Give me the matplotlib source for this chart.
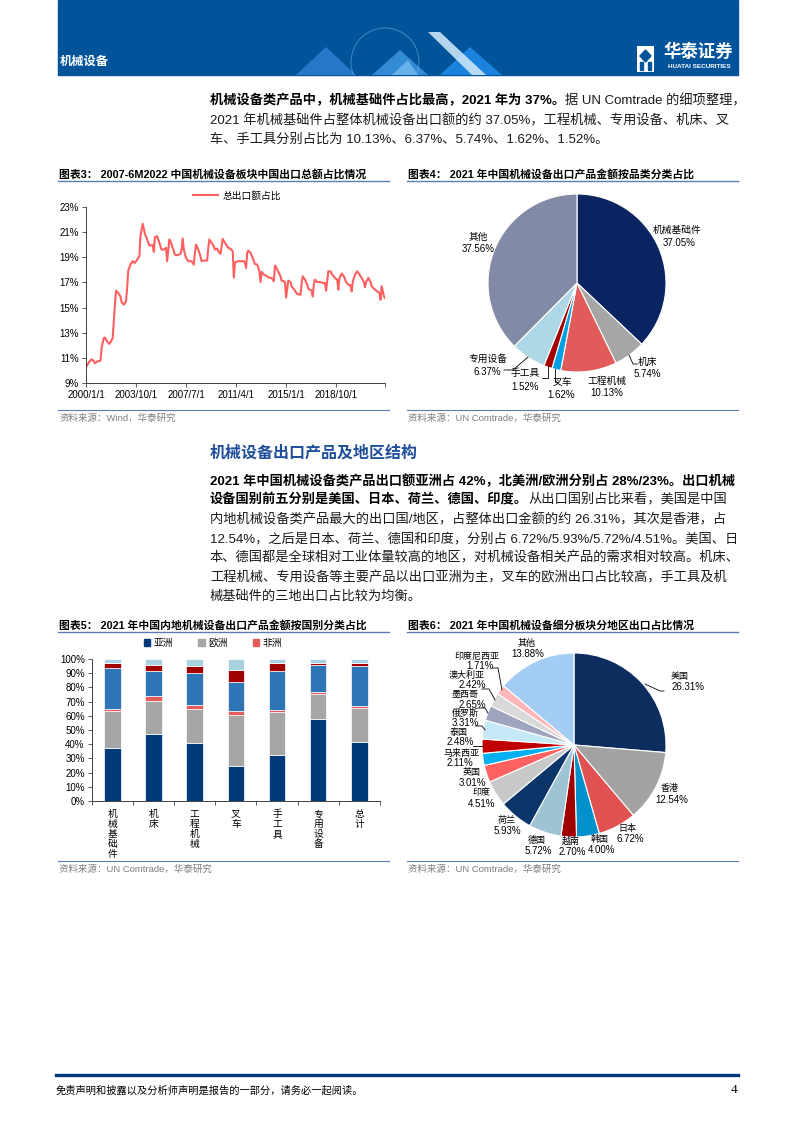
import numpy as np
import matplotlib.pyplot as plt
from matplotlib.patches import Rectangle, Polygon, Circle, Patch
from matplotlib.lines import Line2D

plt.rcParams['font.family'] = ['Liberation Sans', 'Noto Sans CJK SC']
plt.rcParams['axes.unicode_minus'] = False

W, H = 793, 1122

# ---------------- 数据 ----------------
# 图表3：总出口额占比（自2000/1起的月份序号, %）
line_months = [0, 3, 5, 7, 8, 10, 13, 14, 16, 17, 19, 21, 22, 24, 26, 27, 29, 31, 32, 34,
               36, 37, 38, 40, 42, 44, 46, 48, 49, 51, 53, 55, 57, 60, 61, 62, 64, 66, 68, 70,
               72, 73, 75, 76, 78, 80, 82, 85, 86, 87, 88, 90, 92, 95, 97, 98, 99, 101, 103, 104,
               106, 109, 110, 111, 113, 115, 116, 118, 119, 121, 122, 123, 125, 127, 128, 130, 132, 133, 134, 136,
               139, 142, 143, 144, 145, 146, 148, 150, 152, 154, 156, 157, 158, 160, 162, 164, 167, 169, 170, 171,
               173, 175, 176, 178, 179, 180, 182, 184, 185, 188, 190, 193, 194, 195, 197, 199, 200, 203, 204, 205,
               206, 208, 211, 213, 215, 216, 218, 220, 221, 224, 226, 227, 228, 230, 232, 234, 236, 238, 239, 240,
               242, 244, 246, 248, 250, 251, 252, 254, 256, 257, 260, 262, 264, 265, 266, 267, 268, 269]
line_values = [10.27, 10.72, 10.90, 10.77, 10.59, 10.72, 10.80, 11.78, 12.58, 12.63, 12.31, 12.12, 12.26, 12.58, 15.23, 16.34, 16.16, 15.89, 15.44, 15.23,
               15.50, 16.55, 17.93, 18.41, 18.68, 18.54, 18.81, 19.07, 20.67, 21.65, 20.85, 20.40, 19.92, 19.95, 19.42, 20.59, 20.67, 20.14, 19.60, 19.60,
               19.74, 18.68, 20.40, 20.27, 19.74, 19.20, 19.15, 19.26, 19.60, 20.48, 19.60, 18.94, 18.68, 18.68, 18.41, 19.34, 20.00, 19.60, 19.07, 18.68,
               18.73, 18.73, 19.74, 20.40, 20.14, 19.87, 19.60, 19.68, 19.47, 19.26, 19.87, 20.45, 20.14, 19.87, 19.74, 19.66, 19.47, 17.40, 18.54, 18.68,
               18.68, 18.68, 18.54, 18.15, 19.34, 19.52, 19.34, 18.94, 18.46, 18.41, 17.88, 17.03, 17.83, 17.62, 17.54, 17.40, 17.35, 17.09, 18.33, 18.20,
               17.83, 17.48, 17.14, 17.09, 17.03, 15.80, 17.14, 17.03, 16.69, 16.34, 16.08, 16.02, 16.95, 17.48, 17.22, 16.82, 16.50, 16.34, 15.89, 16.82,
               17.22, 17.03, 17.03, 16.95, 16.95, 16.34, 17.88, 17.88, 17.67, 17.35, 17.22, 16.42, 17.35, 17.70, 17.48, 17.03, 16.82, 16.77, 16.29, 17.03,
               17.62, 17.88, 17.62, 17.35, 17.03, 16.61, 17.03, 17.35, 17.03, 16.69, 16.42, 16.29, 16.16, 15.63, 16.70, 16.30, 15.90, 15.76]
line_tick_months = [0, 45, 90, 135, 180, 225, 269]
line_tick_labels = ['2000/1/1', '2003/10/1', '2007/7/1', '2011/4/1', '2015/1/1', '2018/10/1', '']

# 图表4：按品类分类占比 (%)
pie4_labels = ['机械基础件', '机床', '工程机械', '叉车', '手工具', '专用设备', '其他']
pie4_values = [37.05, 5.74, 10.13, 1.62, 1.52, 6.37, 37.56]

# 图表5：按国别（洲）分类占比 (%)
bar_categories = ['机械基础件', '机床', '工程机械', '叉车', '手工具', '专用设备', '总计']
bar_asia = [37.1, 47.2, 40.9, 24.5, 32.2, 57.5, 41.6]
bar_europe = [26.0, 23.1, 23.6, 36.2, 30.7, 18.2, 23.6]
bar_africa = [1.9, 3.8, 3.0, 2.6, 1.4, 1.4, 1.6]
bar_north_america = [28.5, 17.3, 22.9, 20.8, 27.3, 18.5, 28.1]
bar_oceania = [3.9, 4.4, 4.9, 8.2, 5.6, 1.8, 2.1]
bar_latin_america = [2.6, 4.2, 4.7, 7.7, 2.8, 2.6, 3.0]
bar_legend_labels = ['亚洲', '欧洲', '非洲']

# 图表6：分地区出口占比 (%)
pie6_labels = ['美国', '香港', '日本', '韩国', '越南', '德国', '荷兰', '印度', '英国',
               '马来西亚', '泰国', '俄罗斯', '墨西哥', '澳大利亚', '印度尼西亚', '其他']
pie6_values = [26.31, 12.54, 6.72, 4.00, 2.70, 5.72, 5.93, 4.51, 3.01,
               2.11, 2.48, 3.31, 2.65, 2.42, 1.71, 13.88]


def Y(y):
    # 页面像素坐标（自上而下）转为绘图坐标
    return H - y


fig = plt.figure(figsize=(W / 100, H / 100), dpi=100)
page = fig.add_axes([0, 0, 1, 1])
page.set_xlim(0, W)
page.set_ylim(0, H)
page.axis('off')
renderer = fig.canvas.get_renderer()

# ---------------- 页眉 ----------------
banner = Rectangle((58, Y(75)), 680, 75, color='#01549A', zorder=1)
page.add_patch(banner)
shapes = [
    ([(296, 75), (326, 47), (356, 75)], '#2B7FD0', 0.85),
    ([(372, 75), (400, 50), (428, 75)], '#3E95E0', 0.85),
    ([(440, 75), (470, 47), (502, 75)], '#1E88E5', 0.9),
    ([(428, 32), (440, 32), (486, 75), (472, 75)], '#D4EBFC', 0.85),
    ([(392, 75), (408, 60), (418, 75)], '#7DC0F2', 0.7),
]
for pts, c, a in shapes:
    page.add_patch(Polygon([(px, Y(py)) for px, py in pts], closed=True, color=c, alpha=a, zorder=2, lw=0))
globe = Circle((385, Y(62)), 34, fill=False, ec='#79BBF0', lw=0.6, alpha=0.6, zorder=2)
page.add_patch(globe)
globe.set_clip_path(banner)
page.text(60, Y(62), '机械设备', color='white', fontsize=8.8, fontweight='bold', va='center', zorder=3)
page.add_patch(Rectangle((637, Y(72)), 17, 26, fc='white', ec='none', zorder=3))
page.add_patch(Polygon([(645.5, Y(50)), (651, Y(56)), (645.5, Y(62)), (640, Y(56))], color='#01549A', zorder=4))
page.add_patch(Rectangle((640, Y(70)), 3, 8, color='#01549A', zorder=4))
page.add_patch(Rectangle((648, Y(70)), 3, 8, color='#01549A', zorder=4))
page.text(698, Y(51), '华泰证券', color='white', fontsize=12.5, fontweight='bold', ha='center', va='center', zorder=3)
page.text(699, Y(66), 'HUATAI SECURITIES', color='white', fontsize=4.6, fontweight='bold', ha='center', va='center', zorder=3)


# ---------------- 正文 ----------------
def text_line(y, parts, x=210, size=9.5):
    for s, bold in parts:
        t = page.text(x, Y(y), s, fontsize=size, fontweight='bold' if bold else 'normal',
                      color='black' if bold else '#1a1a1a', va='center', ha='left')
        x = t.get_window_extent(renderer=renderer).x1


text_line(101, [('机械设备类产品中，机械基础件占比最高，2021 年为 37%。', True), ('据 UN Comtrade 的细项整理，', False)])
text_line(121, [('2021 年机械基础件占整体机械设备出口额的约 37.05%，工程机械、专用设备、机床、叉', False)])
text_line(140, [('车、手工具分别占比为 10.13%、6.37%、5.74%、1.62%、1.52%。', False)])

page.text(210, Y(453), '机械设备出口产品及地区结构', fontsize=11.5, fontweight='bold', color='#1F4E9A', va='center')
text_line(481, [('2021 年中国机械设备类产品出口额亚洲占 42%，北美洲/欧洲分别占 28%/23%。出口机械', True)])
text_line(500, [('设备国别前五分别是美国、日本、荷兰、德国、印度。', True), ('从出口国别占比来看，美国是中国', False)])
text_line(520, [('内地机械设备类产品最大的出口国/地区，占整体出口金额的约 26.31%，其次是香港，占', False)])
text_line(539, [('12.54%，之后是日本、荷兰、德国和印度，分别占 6.72%/5.93%/5.72%/4.51%。美国、日', False)])
text_line(558, [('本、德国都是全球相对工业体量较高的地区，对机械设备相关产品的需求相对较高。机床、', False)])
text_line(578, [('工程机械、专用设备等主要产品以出口亚洲为主，叉车的欧洲出口占比较高，手工具及机', False)])
text_line(597, [('械基础件的三地出口占比较为均衡。', False)])

# ---------------- 图表标题与来源 ----------------
frames = [
    (58, 174, 410, '图表3： 2007-6M2022 中国机械设备板块中国出口总额占比情况', '资料来源：Wind，华泰研究'),
    (407, 174, 410, '图表4： 2021 年中国机械设备出口产品金额按品类分类占比', '资料来源：UN Comtrade，华泰研究'),
    (58, 625, 861, '图表5： 2021 年中国内地机械设备出口产品金额按国别分类占比', '资料来源：UN Comtrade，华泰研究'),
    (407, 625, 861, '图表6： 2021 年中国机械设备细分板块分地区出口占比情况', '资料来源：UN Comtrade，华泰研究'),
]
for x0, ty, sy, title, src in frames:
    page.text(x0 + 1, Y(ty), title, fontsize=7.8, fontweight='bold', va='center')
    page.plot([x0, x0 + 331], [Y(ty + 7), Y(ty + 7)], color='#5B7DB1', lw=1.0)
    page.plot([x0, x0 + 331], [Y(sy), Y(sy)], color='#5B7DB1', lw=0.8)
    page.text(x0 + 1, Y(sy + 8), src, fontsize=6.8, color='#7F7F7F', va='center')

# ---------------- 图表3：折线图 ----------------
ax1 = fig.add_axes([86 / W, 1 - 383.3 / H, 299 / W, 176.6 / H])
ax1.plot(line_months, line_values, color='#FF5F5F', lw=1.5, label='总出口额占比')
ax1.set_xlim(0, 269)
ax1.set_ylim(9, 23)
ax1.set_yticks(np.arange(9, 24, 2))
ax1.yaxis.set_major_formatter(lambda v, p: f'{v:.0f}%')
ax1.set_xticks(line_tick_months, line_tick_labels)
ax1.tick_params(labelsize=7, length=3, width=0.6, pad=2, color='#404040')
for s in ['top', 'right']:
    ax1.spines[s].set_visible(False)
for s in ['left', 'bottom']:
    ax1.spines[s].set_color('#404040')
    ax1.spines[s].set_linewidth(0.7)
ax1.patch.set_alpha(0)
ax1.legend(loc='center', bbox_to_anchor=(0.505, 1.062), frameon=False, fontsize=7,
           handlelength=2.6, handletextpad=0.5)

# ---------------- 图表5：堆积柱状图 ----------------
ax2 = fig.add_axes([91.7 / W, 1 - 801 / H, 288.3 / W, 142 / H])
bx = np.arange(len(bar_categories))
series = [bar_asia, bar_europe, bar_africa, bar_north_america, bar_oceania, bar_latin_america]
bar_colors = ['#003A78', '#A6A6A6', '#E35B5B', '#2E75B6', '#A00000', '#A9D1E0']
bottom = np.zeros(len(bx))
for vals, c in zip(series, bar_colors):
    ax2.bar(bx, vals, 0.4, bottom=bottom, color=c, edgecolor='white', linewidth=0.5)
    bottom += np.array(vals)
ax2.set_xlim(-0.5, 6.5)
ax2.set_ylim(0, 100)
ax2.set_yticks(np.arange(0, 101, 10))
ax2.yaxis.set_major_formatter(lambda v, p: f'{v:.0f}%')
ax2.set_xticks(bx, ['\n'.join(c) for c in bar_categories])
ax2.set_xticks(np.arange(-0.5, 7, 1), minor=True)
ax2.tick_params(axis='x', which='major', length=0, pad=6, labelsize=7)
ax2.tick_params(axis='x', which='minor', length=3, width=0.6, color='#404040')
ax2.tick_params(axis='y', labelsize=7, length=3, width=0.6, pad=2, color='#404040')
for lbl in ax2.get_xticklabels():
    lbl.set_linespacing(1.0)
    lbl.set_va('top')
for s in ['top', 'right']:
    ax2.spines[s].set_visible(False)
for s in ['left', 'bottom']:
    ax2.spines[s].set_color('#404040')
    ax2.spines[s].set_linewidth(0.7)
ax2.patch.set_alpha(0)
ax2.legend(handles=[Patch(color=c) for c in bar_colors[:3]], labels=bar_legend_labels,
           loc='center', bbox_to_anchor=(0.42, 1.113), ncol=3, frameon=False, fontsize=7,
           handlelength=0.7, handleheight=0.7, handletextpad=0.3, columnspacing=2.6)

# ---------------- 图表4：饼图 ----------------
pie4_colors = ['#0A2461', '#A6A6A6', '#E25B5B', '#00A0E3', '#A30000', '#AED8E6', '#838AA6']
page.pie(pie4_values, colors=pie4_colors, startangle=90, counterclock=False,
         center=(577, Y(283)), radius=89, frame=False,
         wedgeprops=dict(edgecolor='white', linewidth=0.8))
pie4_pos = {
    '机械基础件': ((677, 230), (679, 243)),
    '机床': ((647, 362), (647, 374)),
    '工程机械': ((607, 381), (607, 393)),
    '叉车': ((562, 382), (561, 395)),
    '手工具': ((525, 373), (525, 387)),
    '专用设备': ((488, 359), (487, 372)),
    '其他': ((478, 237), (478, 249)),
}
for name, v in zip(pie4_labels, pie4_values):
    (nx, ny), (vx, vy) = pie4_pos[name]
    page.text(nx, Y(ny), name, fontsize=7, ha='center', va='center')
    page.text(vx, Y(vy), f'{v:.2f}%', fontsize=7, ha='center', va='center')
pie4_leaders = [
    [(629, 355), (633, 364), (637, 364)],
    [(555, 369), (555, 382), (558, 382)],
    [(548, 366), (548, 378), (542, 378)],
    [(528, 357), (513, 370), (504, 370)],
]
for pts in pie4_leaders:
    page.plot([p[0] for p in pts], [Y(p[1]) for p in pts], color='black', lw=0.6)

# ---------------- 图表6：饼图 ----------------
pie6_colors = ['#0C2D5E', '#A3A3A3', '#E05252', '#0090CC', '#A00000', '#9EC3D2', '#0C356A', '#C9C9C9',
               '#FF6060', '#00B0F0', '#C00000', '#C6E9F7', '#9EA5BC', '#D9D9D9', '#FFB5BA', '#A3CDF2']
page.pie(pie6_values, colors=pie6_colors, startangle=90, counterclock=False,
         center=(574, Y(745)), radius=92, frame=False,
         wedgeprops=dict(edgecolor='white', linewidth=0.8))
pie6_pos = {
    '美国': ((680, 677), (688, 687)),
    '香港': ((670, 789), (672, 800)),
    '日本': ((627, 828), (630, 839)),
    '韩国': ((600, 839), (602, 850)),
    '越南': ((571, 841), (572, 852)),
    '德国': ((537, 840), (538, 851)),
    '荷兰': ((507, 820), (507, 831)),
    '印度': ((481, 793), (482, 804)),
    '英国': ((472, 773), (472, 783)),
    '马来西亚': ((462, 753), (460, 763)),
    '泰国': ((459, 732), (460, 742)),
    '俄罗斯': ((465, 713), (465, 723)),
    '墨西哥': ((465, 695), (472, 705)),
    '澳大利亚': ((467, 675), (472, 685)),
    '印度尼西亚': ((477, 656), (480, 666)),
    '其他': ((527, 643), (528, 654)),
}
for name, v in zip(pie6_labels, pie6_values):
    (nx, ny), (vx, vy) = pie6_pos[name]
    page.text(nx, Y(ny), name, fontsize=6.5, ha='center', va='center')
    page.text(vx, Y(vy), f'{v:.2f}%', fontsize=7, ha='center', va='center')
pie6_leaders = [
    [(645, 684), (660, 691), (664, 691)],
    [(502, 690), (498, 668), (493, 668)],
    [(495, 700), (489, 689), (482, 689)],
    [(488, 713), (485, 708), (478, 708)],
    [(485, 730), (482, 726), (476, 726)],
    [(483, 746), (473, 746)],
]
for pts in pie6_leaders:
    page.plot([p[0] for p in pts], [Y(p[1]) for p in pts], color='black', lw=0.6)

# ---------------- 页脚 ----------------
page.plot([56, 738], [Y(1075), Y(1075)], color='#003A78', lw=2.4)
page.text(56, Y(1090), '免责声明和披露以及分析师声明是报告的一部分，请务必一起阅读。',
          fontsize=7.4, fontstyle='italic', va='center')
page.text(737, Y(1090), '4', fontsize=9.5, ha='right', va='center', family='Liberation Serif')

page.set_xlim(0, W)
page.set_ylim(0, H)
page.set_aspect('auto')
page.axis('off')

fig.savefig('out.png', dpi=100)
